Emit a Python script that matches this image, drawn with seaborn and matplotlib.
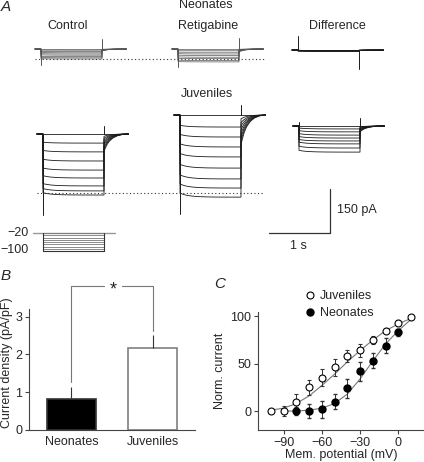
import numpy as np
import pandas as pd
import seaborn as sns
import matplotlib.pyplot as plt
from matplotlib.lines import Line2D

# ---------------- panel A: example traces ----------------
step_mv = [-20, -30, -40, -50, -60, -70, -80, -90, -100]

# steady-state current at the end of each step (pA, relative to holding)
neo_ctrl_pa = [0, -4, -9, -13, -17, -21, -26, -30, -34]
neo_ret_pa = [0, -6, -11, -17, -22, -28, -33, -39, -44]
neo_diff_pa = [0, -1, -1, -2, -2, -3, -3, -4, -5]
juv_ctrl_pa = [0, -31, -61, -92, -123, -150, -177, -194, -208]
juv_ret_pa = [0, -41, -75, -109, -143, -181, -218, -249, -280]
juv_diff_pa = [0, -10, -20, -31, -41, -51, -61, -75, -89]

# slow deactivation during the step (pA, how much less inward at onset)
neo_deact_pa = [0, 0, 0, 1, 1, 1, 1, 1, 1]
juv_ctrl_deact_pa = [0, 3, 5, 6, 7, 8, 8, 8, 8]
juv_ret_deact_pa = [0, 6, 9, 11, 12, 13, 14, 14, 14]
juv_diff_deact_pa = [0, 3, 4, 5, 5, 5, 6, 6, 6]

# inward tail at return to -20 mV (pA)
neo_ctrl_tail_pa = [0, -1, -2, -3, -4, -5, -5, -6, -7]
neo_ret_tail_pa = [0, -1, -2, -4, -5, -6, -7, -8, -10]
neo_diff_tail_pa = [0, 0, 0, -1, -1, -1, -1, -2, -2]
juv_ctrl_tail_pa = [0, -8, -15, -22, -30, -36, -44, -52, -60]
juv_ret_tail_pa = [0, -13, -26, -38, -51, -64, -77, -90, -102]
juv_diff_tail_pa = [0, -3, -5, -8, -10, -12, -14, -17, -20]

# normalised time courses
relax_t = [0, 0.03, 0.07, 0.12, 0.2, 0.3, 0.45, 0.65, 1.0]
relax_frac = [1, 0.8, 0.6, 0.42, 0.25, 0.13, 0.05, 0.01, 0]
tail_t = [0, 0.02, 0.05, 0.09, 0.15, 0.22, 0.3, 0.4]
tail_frac = [1, 0.82, 0.6, 0.4, 0.22, 0.1, 0.03, 0]

# capacitive transients (pA) at step on / off
neo_ctrl_spikes = [-55, 34]
neo_ret_spikes = [-60, 37]
neo_diff_spikes = [48, -65]
juv_ctrl_spikes = [-276, 27]
juv_ret_spikes = [-338, 34]
juv_diff_spikes = [14, 27]

# zero-current level relative to the control holding current (pA)
neo_zero_pa = -34
juv_zero_pa = -201

# ---------------- panel B: current density ----------------
groups = ['Neonates', 'Juveniles']
density_mean = [0.83, 2.16]
density_sem = [0.32, 0.36]

# ---------------- panel C: activation curves ----------------
juv_v = [-100, -90, -80, -70, -60, -50, -40, -30, -20, -10, 0, 10]
juv_i = [0, 0, 10, 25, 35, 46, 58, 64, 75, 85, 93, 99]
juv_err = [0, 5, 8, 8, 9, 9, 6, 7, 4, 3, 3, 0]
neo_v = [-80, -70, -60, -50, -40, -30, -20, -10, 0]
neo_i = [0, 0, 2, 10, 24, 42, 53, 69, 83]
neo_err = [4, 7, 9, 8, 10, 10, 8, 8, 4]
juv_fit_v = [-100, -90, -80, -70, -60, -50, -40, -30, -20, -10, 0, 10]
juv_fit = [1, 3, 8, 16, 27, 39, 52, 64, 75, 85, 92, 98]
neo_fit_v = [-90, -80, -70, -60, -50, -40, -30, -20, -10, 0, 10]
neo_fit = [0, 0, 1, 3, 8, 18, 34, 53, 71, 85, 97]

# ---------------- style ----------------
sns.set_theme(style='ticks')
plt.rcParams['font.family'] = ['Liberation Sans', 'DejaVu Sans']
plt.rcParams['font.size'] = 9
FS = 9
AX_COL = '#444444'

PX_PER_S = 61.0
PX_PER_PA = 44.0 / 150.0
PX_PER_MV = 0.225

fig = plt.figure(figsize=(4.24, 4.62), dpi=100)

# panel A lives on a pixel-space canvas
ax_a = fig.add_axes([0, 0, 1, 1])
ax_a.set_xlim(0, 424)
ax_a.set_ylim(462, 0)
ax_a.axis('off')


def draw_traces(ax, x0, y0, levels, deact, tails, spikes, color='#1a1a1a', lw=0.6):
    """Draw one family of current traces with step onset at x0, holding level y0."""
    for lev, de, tl in zip(levels, deact, tails):
        t = [-0.1, 0.0]
        i = [0.0, 0.0]
        for rt, rf in zip(relax_t, relax_frac):
            t.append(rt)
            i.append(lev + de * rf)
        for tt, tf in zip(tail_t, tail_frac):
            t.append(1.0 + tt)
            i.append(tl * tf)
        xs = x0 + np.array(t) * PX_PER_S
        ys = y0 - np.array(i) * PX_PER_PA
        ax.plot(xs, ys, color=color, lw=lw, solid_joinstyle='miter')
    on, off = spikes
    ax.plot([x0, x0], [y0, y0 - on * PX_PER_PA], color=color, lw=0.7)
    ax.plot([x0 + PX_PER_S] * 2, [y0, y0 - off * PX_PER_PA], color=color, lw=0.7)


# neonates
draw_traces(ax_a, 41, 49, neo_ctrl_pa, neo_deact_pa, neo_ctrl_tail_pa, neo_ctrl_spikes, color='#555555', lw=0.5)
draw_traces(ax_a, 178, 49, neo_ret_pa, neo_deact_pa, neo_ret_tail_pa, neo_ret_spikes, color='#555555', lw=0.5)
draw_traces(ax_a, 298, 50, neo_diff_pa, neo_deact_pa, neo_diff_tail_pa, neo_diff_spikes)
# juveniles
draw_traces(ax_a, 43, 134, juv_ctrl_pa, juv_ctrl_deact_pa, juv_ctrl_tail_pa, juv_ctrl_spikes)
draw_traces(ax_a, 180, 115, juv_ret_pa, juv_ret_deact_pa, juv_ret_tail_pa, juv_ret_spikes)
draw_traces(ax_a, 299, 126, juv_diff_pa, juv_diff_deact_pa, juv_diff_tail_pa, juv_diff_spikes)

# dotted zero-current lines
for x0, y0, zero in [(41, 49, neo_zero_pa), (43, 134, juv_zero_pa)]:
    yz = y0 - zero * PX_PER_PA
    ax_a.plot([x0 - 6, 264], [yz, yz], color='#333333', lw=0.8, ls=(0, (1, 2.2)))

# voltage protocol
vx0, vy0 = 43, 233
ax_a.plot([vx0 - 0.16 * PX_PER_S, vx0 + 1.18 * PX_PER_S], [vy0, vy0], color='#999999', lw=1.0)
for v in step_mv:
    yv = vy0 + (step_mv[0] - v) * PX_PER_MV
    ax_a.plot([vx0, vx0 + PX_PER_S], [yv, yv], color='#777777', lw=0.6)
ybot = vy0 + (step_mv[0] - step_mv[-1]) * PX_PER_MV
ax_a.plot([vx0, vx0 + PX_PER_S], [ybot, ybot], color='#333333', lw=0.8)
for xv in [vx0, vx0 + PX_PER_S]:
    ax_a.plot([xv, xv], [vy0, ybot], color='#333333', lw=0.8)
ax_a.text(29, vy0, '\u221220', ha='right', va='center', fontsize=FS)
ax_a.text(29, ybot - 1, '\u2212100', ha='right', va='center', fontsize=FS)

# scale bar
sx, sy = 330, 233
ax_a.plot([sx, sx], [sy, sy - 150 * PX_PER_PA], color='#333333', lw=0.9)
ax_a.plot([sx - 1.0 * PX_PER_S, sx], [sy, sy], color='#333333', lw=0.9)
ax_a.text(sx + 7, 210, '150 pA', ha='left', va='center', fontsize=FS)
ax_a.text(298, 246, '1 s', ha='center', va='center', fontsize=FS)

# titles
ax_a.text(206, 5, 'Neonates', ha='center', va='center', fontsize=FS)
ax_a.text(68, 26, 'Control', ha='center', va='center', fontsize=FS)
ax_a.text(208, 26, 'Retigabine', ha='center', va='center', fontsize=FS)
ax_a.text(337, 26, 'Difference', ha='center', va='center', fontsize=FS)
ax_a.text(207, 94, 'Juveniles', ha='center', va='center', fontsize=FS)

# panel letters
ax_a.text(1, 7, 'A', ha='left', va='center', fontsize=11, style='italic')
ax_a.text(1, 276, 'B', ha='left', va='center', fontsize=11, style='italic')
ax_a.text(214, 284, 'C', ha='left', va='center', fontsize=11, style='italic')

# ---------------- panel B ----------------
ax_b = fig.add_axes([29 / 424, 32 / 462, 166 / 424, 121 / 462])
df_b = pd.DataFrame({'group': groups, 'density': density_mean})
sns.barplot(data=df_b, x='group', y='density', hue='group', palette=['black', 'white'],
            width=0.6, errorbar=None, legend=False, ax=ax_b)
for patch, ec in zip(ax_b.patches, ['#333333', '#808080']):
    patch.set_edgecolor(ec)
    patch.set_linewidth(1.2)
ax_b.errorbar([0, 1], density_mean, yerr=[[0, 0], density_sem], fmt='none',
              ecolor='#333333', elinewidth=0.8, capsize=0)
ax_b.set_xlim(-0.52, 1.52)
ax_b.set_ylim(0, 3.2)
ax_b.set_yticks([0, 1, 2, 3])
ax_b.set_xlabel('')
ax_b.set_ylabel('Current density (pA/pF)', fontsize=FS)
ax_b.yaxis.set_label_coords(-0.095, 0.56)
ax_b.tick_params(axis='both', labelsize=FS, length=3, width=0.8, color=AX_COL, pad=2)
ax_b.tick_params(axis='x', length=0, pad=4)
sns.despine(ax=ax_b)
for s in ['left', 'bottom']:
    ax_b.spines[s].set_color(AX_COL)
    ax_b.spines[s].set_linewidth(0.8)

# significance bracket
top = 3.82
ax_b.plot([0, 0, 0.4], [density_mean[0] + density_sem[0] + 0.13, top, top], color='#777777', lw=0.8, clip_on=False)
ax_b.plot([0.62, 1, 1], [top, top, density_mean[1] + density_sem[1] + 0.1], color='#777777', lw=0.8, clip_on=False)
ax_b.text(0.51, top - 0.12, '*', ha='center', va='center', fontsize=13, clip_on=False)

# ---------------- panel C ----------------
ax_c = fig.add_axes([258 / 424, 32 / 462, 166 / 424, 118.4 / 462])
sns.lineplot(x=juv_fit_v, y=juv_fit, color='#777777', lw=0.8, ax=ax_c, zorder=1)
sns.lineplot(x=neo_fit_v, y=neo_fit, color='#777777', lw=0.8, ax=ax_c, zorder=1)
ax_c.errorbar(juv_v, juv_i, yerr=juv_err, fmt='o', mfc='white', mec='black', mew=0.8, ms=5,
              ecolor='#333333', elinewidth=0.7, capsize=1.2, zorder=3)
ax_c.errorbar(neo_v, neo_i, yerr=neo_err, fmt='o', mfc='black', mec='black', ms=5,
              ecolor='#333333', elinewidth=0.7, capsize=1.2, zorder=3)
ax_c.set_xlim(-110, 20)
ax_c.set_ylim(-20, 105)
ax_c.set_xticks([-90, -60, -30, 0])
ax_c.set_yticks([0, 50, 100])
ax_c.set_xlabel('Mem. potential (mV)', fontsize=FS, labelpad=0)
ax_c.set_ylabel('Norm. current', fontsize=FS, labelpad=3)
ax_c.tick_params(axis='both', labelsize=FS, length=3, width=0.8, color=AX_COL, pad=2)
sns.despine(ax=ax_c)
for s in ['left', 'bottom']:
    ax_c.spines[s].set_color(AX_COL)
    ax_c.spines[s].set_linewidth(0.8)

handles = [Line2D([], [], ls='none', marker='o', mfc='white', mec='black', mew=0.8, ms=5),
           Line2D([], [], ls='none', marker='o', mfc='black', mec='black', ms=5)]
fig.legend(handles, ['Juveniles', 'Neonates'], loc='upper left',
           bbox_to_anchor=(306 / 424, (462 - 290) / 462), frameon=False, fontsize=FS,
           handlelength=0.6, handletextpad=0.5, labelspacing=0.44, borderpad=0, borderaxespad=0)

fig.savefig('out.png', dpi=100)
